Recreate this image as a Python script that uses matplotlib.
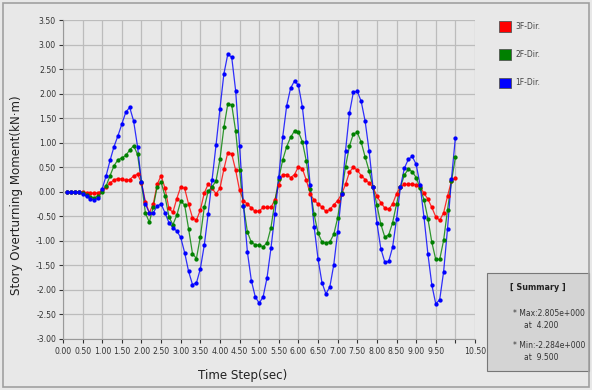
import numpy as np
import matplotlib
matplotlib.use("Agg")
import matplotlib.pyplot as plt
from matplotlib.patches import Rectangle

plt.rcParams['font.family'] = ['DejaVu Sans']

# time steps 0.1 .. 10.0 sec
time = np.arange(1, 101) / 10.0

moment_3f = [0, 0, 0, 0, -0.01, -0.02, -0.03, -0.03, -0.02, 0.03,
             0.10, 0.18, 0.24, 0.27, 0.26, 0.23, 0.25, 0.32, 0.36, 0.18,
             -0.20, -0.43, -0.25, 0.15, 0.33, 0.07, -0.34, -0.42, -0.14, 0.10,
             0.07, -0.25, -0.53, -0.58, -0.37, -0.03, 0.16, 0.07, -0.04, 0.07,
             0.46, 0.80, 0.77, 0.44, 0.03, -0.18, -0.25, -0.33, -0.40, -0.39,
             -0.32, -0.32, -0.32, -0.16, 0.14, 0.35, 0.35, 0.29, 0.35, 0.51,
             0.47, 0.24, -0.04, -0.17, -0.25, -0.31, -0.40, -0.36, -0.27, -0.18,
             -0.05, 0.15, 0.40, 0.50, 0.44, 0.33, 0.25, 0.18, 0.09, -0.09,
             -0.22, -0.33, -0.36, -0.25, -0.04, 0.10, 0.15, 0.15, 0.16, 0.14,
             0.10, -0.03, -0.15, -0.32, -0.51, -0.58, -0.43, -0.09, 0.22, 0.29]

moment_2f = [0, 0, 0, -0.01, -0.03, -0.07, -0.11, -0.12, -0.09, 0.0,
             0.12, 0.33, 0.53, 0.65, 0.69, 0.74, 0.85, 0.94, 0.76, 0.19,
             -0.43, -0.62, -0.31, 0.10, 0.20, -0.09, -0.51, -0.67, -0.48, -0.19,
             -0.27, -0.75, -1.26, -1.36, -0.92, -0.32, 0.01, 0.10, 0.22, 0.66,
             1.31, 1.79, 1.77, 1.24, 0.44, -0.29, -0.82, -1.03, -1.08, -1.09,
             -1.12, -1.04, -0.73, -0.20, 0.27, 0.65, 0.92, 1.11, 1.24, 1.22,
             1.02, 0.63, 0.05, -0.46, -0.84, -1.02, -1.05, -1.02, -0.87, -0.53,
             -0.03, 0.51, 0.93, 1.18, 1.21, 1.01, 0.71, 0.43, 0.09, -0.27,
             -0.66, -0.92, -0.88, -0.63, -0.25, 0.10, 0.34, 0.46, 0.41, 0.29,
             0.08, -0.16, -0.55, -1.03, -1.38, -1.38, -0.99, -0.37, 0.21, 0.70]

moment_1f = [0, 0, 0, -0.01, -0.05, -0.09, -0.14, -0.17, -0.12, 0.06,
             0.33, 0.64, 0.92, 1.14, 1.38, 1.62, 1.72, 1.44, 0.92, 0.19,
             -0.25, -0.43, -0.43, -0.29, -0.25, -0.43, -0.63, -0.73, -0.80, -0.93,
             -1.24, -1.62, -1.89, -1.86, -1.57, -1.09, -0.45, 0.25, 0.95, 1.69,
             2.40, 2.805, 2.74, 2.06, 0.93, -0.29, -1.23, -1.81, -2.14, -2.27,
             -2.14, -1.75, -1.15, -0.46, 0.31, 1.12, 1.75, 2.11, 2.26, 2.17,
             1.73, 1.01, 0.13, -0.71, -1.37, -1.85, -2.08, -1.94, -1.49, -0.82,
             -0.05, 0.83, 1.60, 2.03, 2.05, 1.84, 1.44, 0.84, 0.10, -0.63,
             -1.16, -1.43, -1.42, -1.13, -0.56, 0.10, 0.48, 0.66, 0.72, 0.56,
             0.14, -0.52, -1.27, -1.90, -2.284, -2.20, -1.63, -0.75, 0.26, 1.10]

series_names = ['3F-Dir.', '2F-Dir.', '1F-Dir.']
series_colors = ['#ff0000', '#008000', '#0000ff']

x_ticks = np.arange(0, 10.51, 0.5)
x_tick_labels = ['%.2f' % v for v in x_ticks]
x_tick_labels[20] = ''  # 10.00 is not labelled in the original
y_ticks = np.arange(-3.0, 3.51, 0.5)

summary_lines = ['* Max:2.805e+000', 'at  4.200', '* Min:-2.284e+000', 'at  9.500']

bg = '#e8e8e8'
fig = plt.figure(figsize=(5.92, 3.9), dpi=100, facecolor=bg)
ax = fig.add_axes([63 / 592, 51 / 390, 412 / 592, 319 / 390])
ax.set_facecolor(bg)

for name, vals, color in zip(series_names, [moment_3f, moment_2f, moment_1f], series_colors):
    ax.plot(time, vals, color=color, linewidth=0.9, alpha=0.8, zorder=3)
    ax.plot(time, vals, linestyle='none', marker='o', markersize=3.1,
            color=color, markeredgewidth=0, zorder=4)

ax.set_xlim(0, 10.5)
ax.set_ylim(-3.0, 3.5)
ax.set_xticks(x_ticks)
ax.set_xticklabels(x_tick_labels)
ax.set_yticks(y_ticks)
ax.set_yticklabels(['%.2f' % v for v in y_ticks])
ax.tick_params(axis='both', labelsize=5.6, colors='#333333', length=3, width=0.8)
ax.tick_params(axis='x', pad=3)
ax.tick_params(axis='y', pad=2)
ax.grid(True, color='#bcbcbc', linewidth=0.9)
ax.set_axisbelow(True)
for side in ['top', 'right']:
    ax.spines[side].set_visible(False)
ax.spines['left'].set_color('#999999')
ax.spines['bottom'].set_color('#999999')

fig.text(17 / 592, 0.5, 'Story Overturning Moment(kN\u00b7m)', rotation=90,
         ha='center', va='center', fontsize=8.6, color='#222222')
fig.text(243 / 592, 14 / 390, 'Time Step(sec)', ha='center', va='center',
         fontsize=8.6, color='#222222')

# legend
for i, (name, color) in enumerate(zip(series_names, series_colors)):
    yc = 390 - (26.5 + i * 28)
    fig.patches.append(Rectangle((499 / 592, (yc - 5) / 390), 12 / 592, 10 / 390,
                                 transform=fig.transFigure, facecolor=color,
                                 edgecolor='#555555', linewidth=0.6))
    fig.text(515 / 592, yc / 390, name, ha='left', va='center', fontsize=5.5,
             color='#444444')

# summary box
fig.patches.append(Rectangle((487 / 592, 19 / 390), 102 / 592, 98 / 390,
                             transform=fig.transFigure, facecolor='#d4d4d4',
                             edgecolor='#777777', linewidth=0.8))
fig.text(538 / 592, (390 - 287) / 390, '[ Summary ]', ha='center', va='center',
         fontsize=5.8, fontweight='bold', color='#222222')
for txt, xp, yp in zip(summary_lines, [513, 524, 513, 524], [314, 326, 346, 358]):
    fig.text(xp / 592, (390 - yp) / 390, txt, ha='left', va='center',
             fontsize=5.5, color='#333333')

# outer frame
fig.patches.append(Rectangle((3 / 592, 3 / 390), 586 / 592, 384 / 390,
                             transform=fig.transFigure, facecolor='none',
                             edgecolor='#a0a0a0', linewidth=1.2))

fig.savefig('out.png', dpi=100, facecolor=bg)
